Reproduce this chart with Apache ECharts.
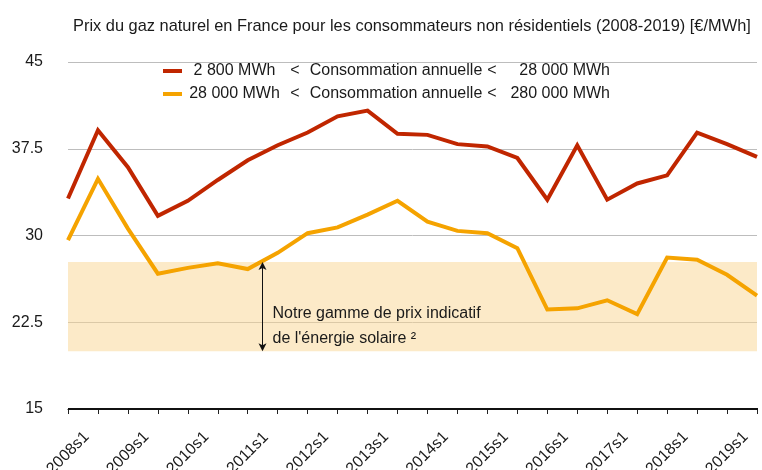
<!DOCTYPE html>
<html>
<head>
<meta charset="utf-8">
<script src="https://cdn.jsdelivr.net/npm/echarts@6/dist/echarts.min.js"></script>
<style>
  html, body { margin: 0; padding: 0; background: #fff; }
  #chart { width: 762px; height: 470px; }
</style>
</head>
<body>
<div id="chart"></div>
<script>
const FONT = "'Liberation Sans', Arial, sans-serif";
const TEXT_COLOR = "#1a1a1a";

const periods = [
  "2008s1", "2008s2", "2009s1", "2009s2", "2010s1", "2010s2",
  "2011s1", "2011s2", "2012s1", "2012s2", "2013s1", "2013s2",
  "2014s1", "2014s2", "2015s1", "2015s2", "2016s1", "2016s2",
  "2017s1", "2017s2", "2018s1", "2018s2", "2019s1", "2019s2"
];

// 2 800 - 28 000 MWh
const smallConsumers = [
  33.2, 39.1, 35.9, 31.7, 33.0, 34.8, 36.5, 37.8, 38.9, 40.3, 40.8, 38.8,
  38.7, 37.9, 37.7, 36.7, 33.1, 37.8, 33.1, 34.5, 35.2, 38.9, 37.9, 36.8
];

// 28 000 - 280 000 MWh
const largeConsumers = [
  29.6, 34.9, 30.6, 26.7, 27.2, 27.6, 27.1, 28.5, 30.2, 30.7, 31.8, 33.0,
  31.2, 30.4, 30.2, 28.9, 23.6, 23.7, 24.4, 23.2, 28.1, 27.9, 26.6, 24.8
];

const seriesNames = ["small", "large"];
const legendParts = {
  small: ["2 800 MWh", "Consommation annuelle", "28 000 MWh"],
  large: ["28 000 MWh", "Consommation annuelle", "280 000 MWh"]
};

// solar price range band, arrow position (fractional period index)
const solarRange = [20, 27.7];
const arrowAt = 6.48;
const noteAt = 22.2;

const chart = echarts.init(document.getElementById("chart"), null, { renderer: "canvas" });

const richPart = (width, align) => ({ width, align, fontSize: 16, fontFamily: FONT, color: TEXT_COLOR });

chart.setOption({
  animation: false,
  textStyle: { fontFamily: FONT, color: TEXT_COLOR },
  title: {
    text: "Prix du gaz naturel en France pour les consommateurs non résidentiels (2008-2019) [€/MWh]",
    left: 73,
    top: 18,
    padding: 0,
    textStyle: { fontFamily: FONT, fontSize: 16.4, fontWeight: "normal", color: TEXT_COLOR }
  },
  legend: {
    orient: "vertical",
    left: 163,
    top: 63,
    padding: 0,
    itemGap: 7,
    itemWidth: 19,
    itemHeight: 4,
    icon: "rect",
    data: seriesNames,
    formatter: (name) => {
      const p = legendParts[name];
      return `{a|${p[0]}}{b|<}{c|${p[1]}}{b2|<}{d|${p[2]}}`;
    },
    textStyle: {
      fontFamily: FONT,
      fontSize: 16,
      color: TEXT_COLOR,
      rich: {
        a: richPart(95, "right"),
        b: richPart(26, "center"),
        c: richPart(176, "left"),
        b2: richPart(16, "center"),
        d: richPart(110, "right")
      }
    }
  },
  grid: { left: 68, right: 5, top: 62, bottom: 61, outerBoundsMode: "none", containLabel: false },
  xAxis: {
    type: "category",
    data: periods,
    boundaryGap: false,
    axisLine: { show: true, onZero: false, lineStyle: { color: "#000", width: 1 } },
    axisTick: { show: true, interval: 0, length: 5, lineStyle: { color: "#222" } },
    axisLabel: {
      interval: 1,
      rotate: 45,
      align: "center",
      verticalAlign: "middle",
      margin: 44,
      fontFamily: FONT,
      fontSize: 16,
      color: TEXT_COLOR
    },
    splitLine: { show: false }
  },
  yAxis: {
    type: "value",
    min: 15,
    max: 45,
    interval: 7.5,
    axisLine: { show: false },
    axisTick: { show: false },
    axisLabel: { margin: 25, fontFamily: FONT, fontSize: 16, color: TEXT_COLOR },
    splitLine: { showMinLine: false, lineStyle: { color: "#bdbdbd", width: 1 } }
  },
  series: [
    {
      name: "small",
      type: "line",
      data: smallConsumers,
      symbol: "none",
      lineStyle: { color: "#c02600", width: 4, join: "miter" },
      itemStyle: { color: "#c02600" },
      z: 4
    },
    {
      name: "large",
      type: "line",
      data: largeConsumers,
      symbol: "none",
      lineStyle: { color: "#f5a300", width: 4, join: "miter" },
      itemStyle: { color: "#f5a300" },
      z: 3,
      markArea: {
        silent: true,
        itemStyle: { color: "rgba(250,214,145,0.5)" },
        data: [[{ yAxis: solarRange[0] }, { yAxis: solarRange[1] }]]
      }
    }
  ]
});

// Arrow + note for the solar range, placed from data coordinates.
// Category axis only maps whole indexes, so interpolate between neighbours.
const i0 = Math.floor(arrowAt);
const x0 = chart.convertToPixel({ xAxisIndex: 0 }, i0);
const x1 = chart.convertToPixel({ xAxisIndex: 0 }, i0 + 1);
const ax = Math.round(x0 + (x1 - x0) * (arrowAt - i0)) + 0.5;
const yTop = chart.convertToPixel({ yAxisIndex: 0 }, solarRange[1]);
const yBot = chart.convertToPixel({ yAxisIndex: 0 }, solarRange[0]);
const yNote = chart.convertToPixel({ yAxisIndex: 0 }, noteAt);
// axis baseline at the y minimum, a bit heavier than 1px like the source
const yBase = chart.convertToPixel({ yAxisIndex: 0 }, 15);
const xStart = chart.convertToPixel({ xAxisIndex: 0 }, 0);
const xEnd = chart.convertToPixel({ xAxisIndex: 0 }, periods.length - 1);
const head = 4, headLen = 8;

chart.setOption({
  graphic: [
    {
      type: "rect",
      silent: true,
      z: 100,
      shape: { x: xStart, y: yBase - 1, width: xEnd - xStart + 1, height: 2 },
      style: { fill: "#111" }
    },
    {
      type: "line",
      silent: true,
      z: 10,
      shape: { x1: ax, y1: yTop + 2, x2: ax, y2: yBot - 2 },
      style: { stroke: "#111", lineWidth: 1 }
    },
    {
      type: "polygon",
      silent: true,
      z: 10,
      shape: { points: [[ax, yTop], [ax - head, yTop + headLen], [ax, yTop + headLen - 2], [ax + head, yTop + headLen]] },
      style: { fill: "#111" }
    },
    {
      type: "polygon",
      silent: true,
      z: 10,
      shape: { points: [[ax, yBot], [ax - head, yBot - headLen], [ax, yBot - headLen + 2], [ax + head, yBot - headLen]] },
      style: { fill: "#111" }
    },
    {
      type: "text",
      silent: true,
      z: 10,
      x: ax + 10,
      y: yNote,
      style: {
        text: "Notre gamme de prix indicatif\nde l'énergie solaire ²",
        font: `16px ${FONT}`,
        fill: TEXT_COLOR,
        lineHeight: 25,
        align: "left",
        verticalAlign: "middle"
      }
    }
  ]
});
</script>
</body>
</html>
